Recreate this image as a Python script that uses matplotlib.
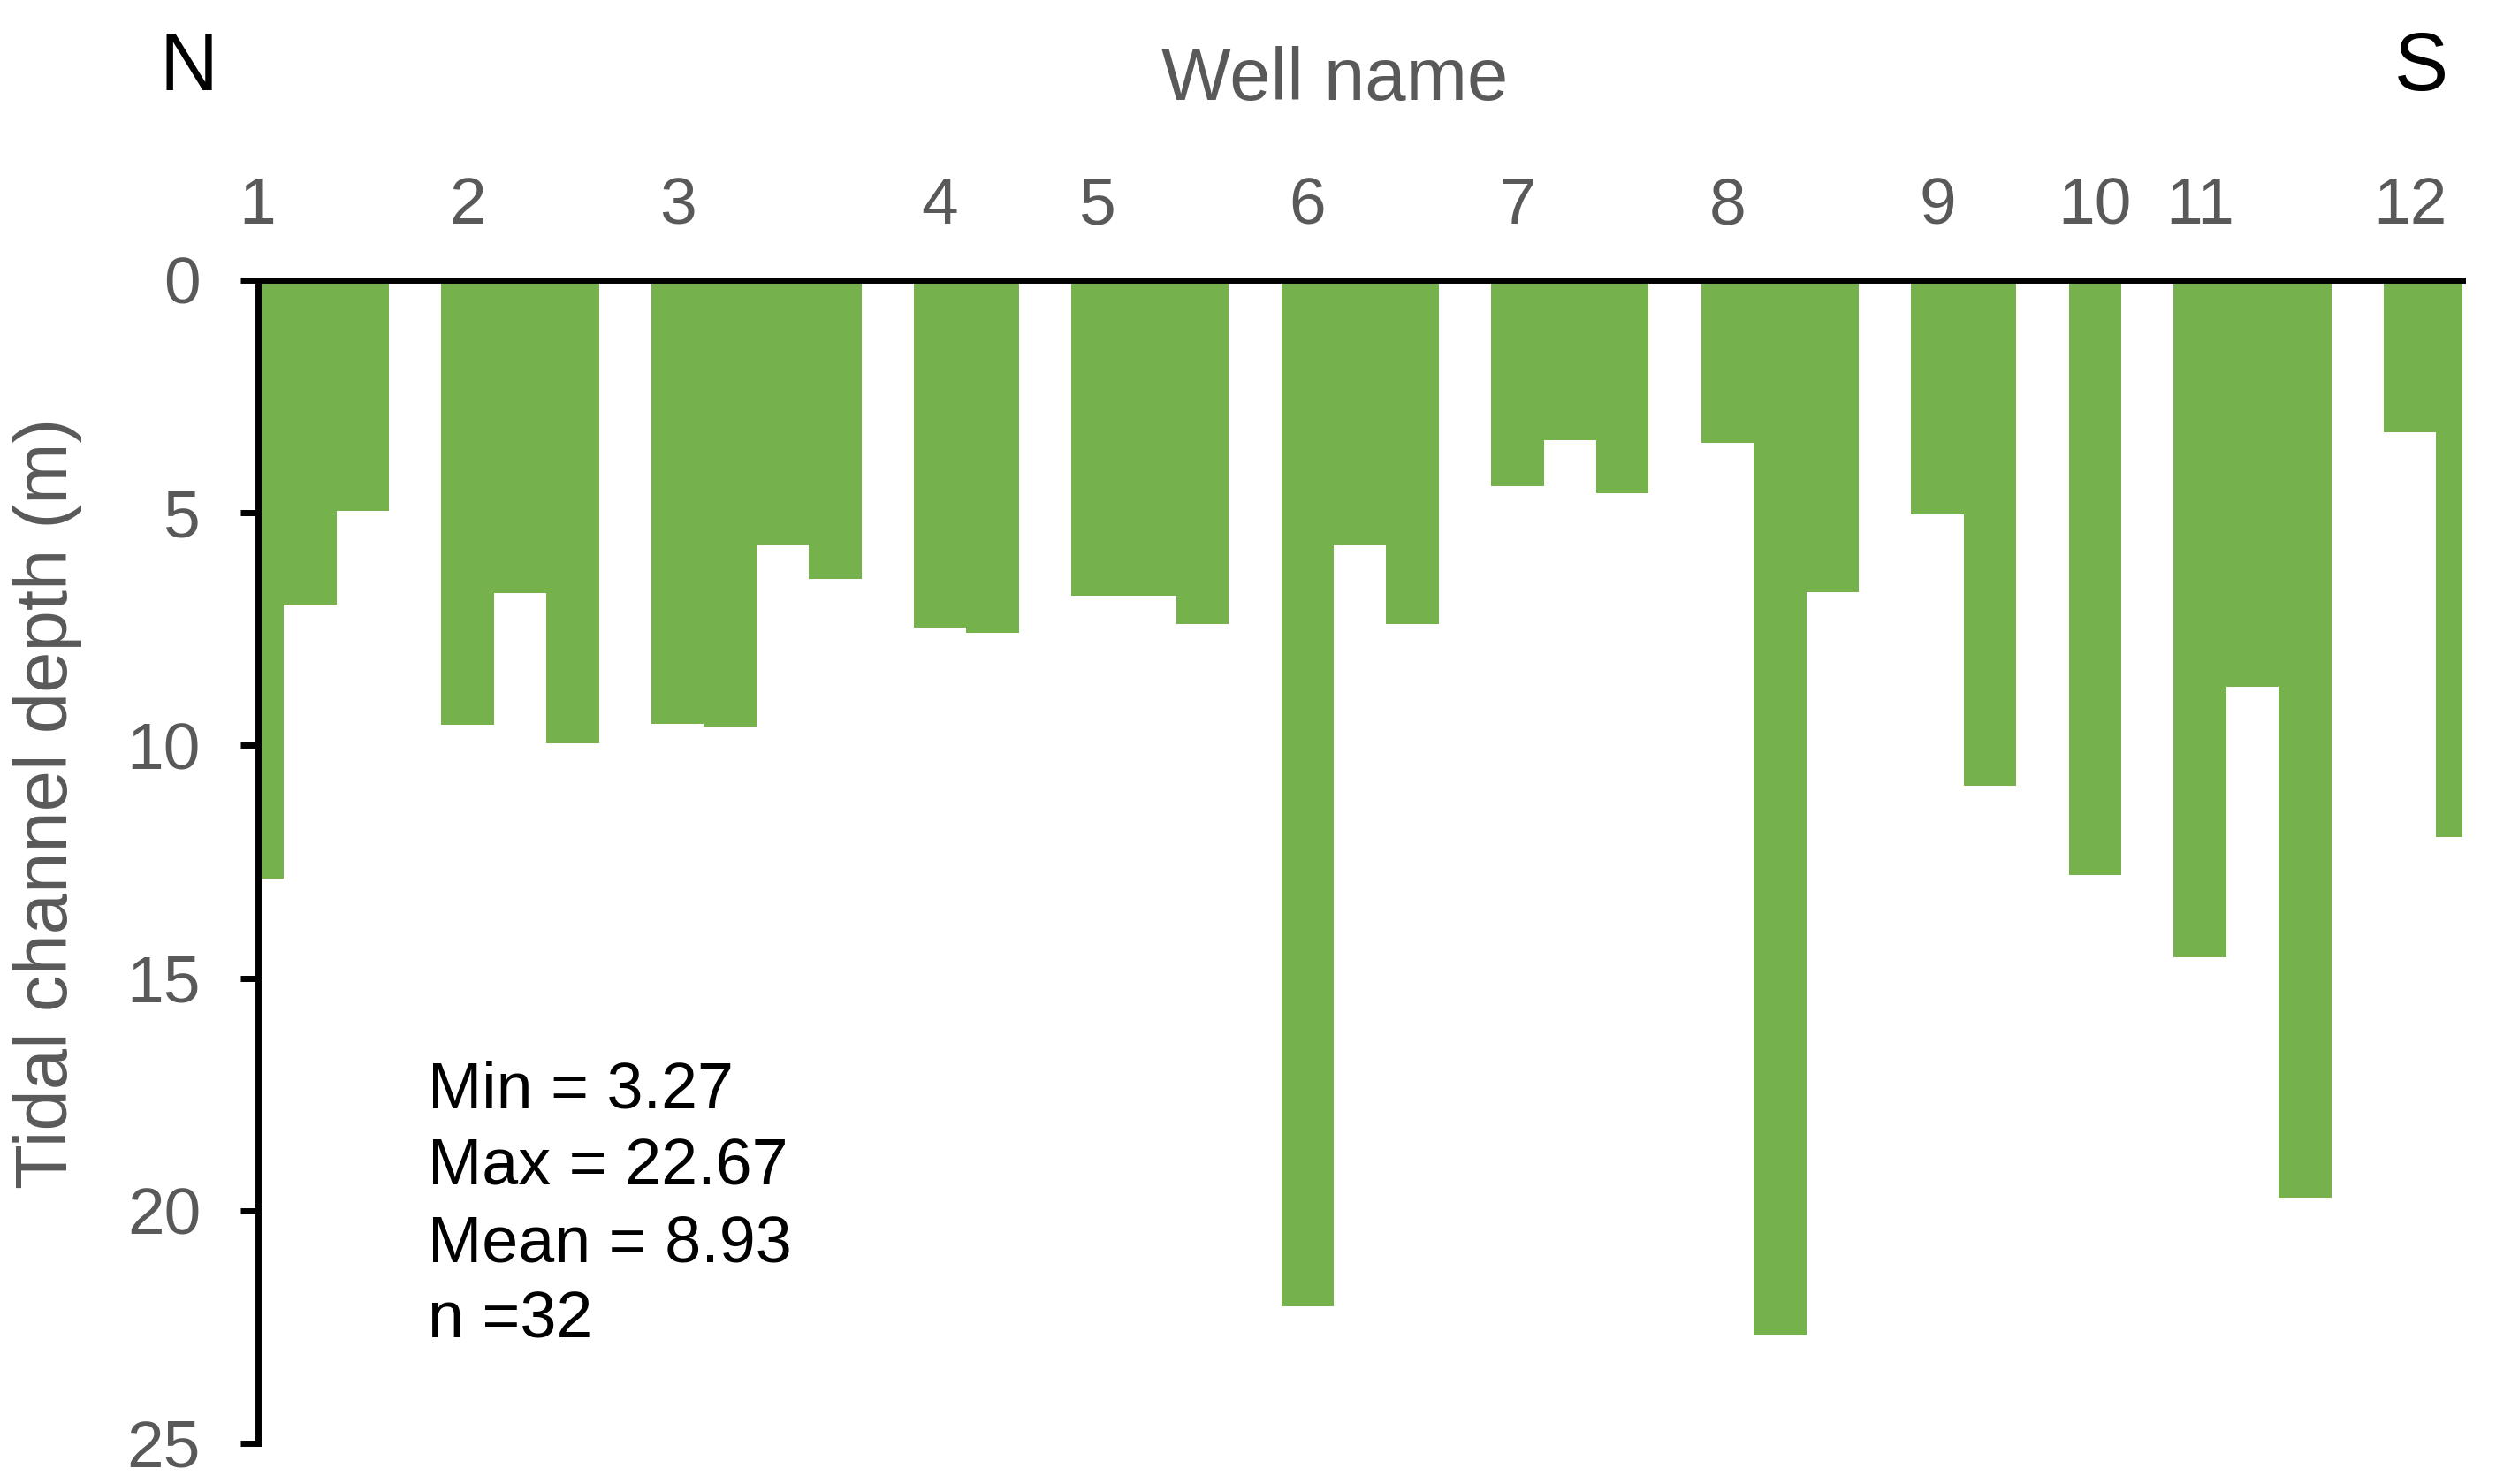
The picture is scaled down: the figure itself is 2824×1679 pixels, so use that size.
import numpy as np
import matplotlib
matplotlib.use('Agg')
import matplotlib.pyplot as plt

plt.rcParams['font.family'] = ['Liberation Sans', 'DejaVu Sans']

# ----- data: tidal channel depths (m) per well, N -> S -----
well_names = ['1', '2', '3', '4', '5', '6', '7', '8', '9', '10', '11', '12']
well_depths = [
    [12.87, 6.97, 4.96],
    [9.56, 6.72, 9.96],
    [9.53, 9.59, 5.70, 6.42],
    [7.46, 7.58],
    [6.79, 6.79, 7.39],
    [22.06, 5.70, 7.39],
    [4.43, 3.44, 4.57],
    [3.50, 22.67, 6.71],
    [5.03, 10.87],
    [12.79],
    [14.56, 8.73, 19.71],
    [3.27, 11.97],
]
stats_lines = ['Min = 3.27', 'Max = 22.67', 'Mean = 8.93', 'n =32']

GREEN = '#76B24B'
GREY = '#595959'
W, H = 2824, 1679

# ----- lay wells out on a slot axis, one empty slot between wells -----
x_pos, depth, tick_pos = [], [], []
slot = 0
for d in well_depths:
    tick_pos.append(slot)
    for v in d:
        x_pos.append(slot)
        depth.append(v)
        slot += 1
    slot += 1

fig = plt.figure(figsize=(W / 100, H / 100), dpi=100)
ax = fig.add_axes([291.5 / W, 46 / H, (2786 - 291.5) / W, 1316 / H])

ax.bar(x_pos, depth, width=1.0, color=GREEN, linewidth=0)
ax.set_xlim(0, x_pos[-1])
ax.set_ylim(25, 0)

# ----- axes format -----
ax.xaxis.tick_top()
ax.set_xticks(tick_pos, well_names)
ax.tick_params(axis='x', length=0, pad=35, labelsize=54, labelcolor=GREY)
ax.set_yticks(range(0, 26, 5))
ax.tick_params(axis='y', direction='out', length=14.4, width=5, pad=32,
               labelsize=54, labelcolor=GREY, color='black')
for side in ['right', 'bottom']:
    ax.spines[side].set_visible(False)
for side in ['left', 'top']:
    ax.spines[side].set_linewidth(5)
    ax.spines[side].set_color('black')

# ----- labels -----
fig.text(1510 / W, 1 - 113 / H, 'Well name', ha='center', va='baseline',
         fontsize=60, color=GREY)
fig.text(93 / W, 1 - 909 / H, 'Tidal channel depth (m)', rotation=90,
         ha='right', va='center', fontsize=60, color=GREY)
fig.text(180 / W, 1 - 102 / H, 'N', ha='left', va='baseline', fontsize=66, color='black')
fig.text(2770 / W, 1 - 102 / H, 'S', ha='right', va='baseline', fontsize=66, color='black')

for i, line in enumerate(stats_lines):
    fig.text(484 / W, 1 - (1254 + 86.5 * i) / H, line, ha='left', va='baseline',
             fontsize=53, color='black')

fig.savefig('out.png', dpi=100)
